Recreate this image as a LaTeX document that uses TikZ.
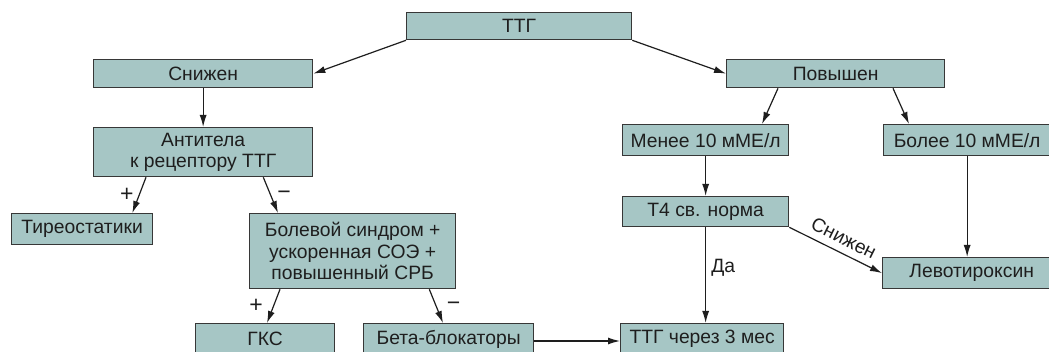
\documentclass[tikz,border=0pt]{standalone}
\usepackage{fontspec}
\setmainfont{Liberation Sans}
\usetikzlibrary{arrows.meta,calc}
\definecolor{boxfill}{RGB}{166,198,197}
\definecolor{boxline}{RGB}{55,55,55}
\definecolor{ink}{RGB}{30,30,30}

\begin{document}
\begin{tikzpicture}[x=1pt,y=-1pt,
  box/.style={draw=boxline, line width=1.3pt, fill=boxfill, anchor=north west,
    inner sep=0pt, text=ink, align=center, font=\fontsize{19.3}{21.5}\selectfont},
  link/.style={draw=ink, line width=1.2pt, -{Latex[length=12pt,width=7pt]}},
  sign/.style={font=\fontsize{19.3}{21}\selectfont, text=ink, inner sep=1pt},
  pm/.style={font=\fontsize{23}{24}\selectfont, text=ink, inner sep=1pt}]

\useasboundingbox (0,0) rectangle (1049,352);
\fill[white] (0,0) rectangle (1049,352);
\clip (0,0) rectangle (1049,352);

% boxes
\node[box, minimum width=225pt, minimum height=27pt] (ttg)  at (406,12)  {ТТГ};
\node[box, minimum width=219pt, minimum height=28pt] (low)  at (93,59)   {Снижен};
\node[box, minimum width=218pt, minimum height=28pt] (high) at (726,59)  {Повышен};
\node[box, minimum width=219pt, minimum height=49pt] (ab)   at (93,127)  {Антитела\\к рецептору ТТГ};
\node[box, minimum width=166pt, minimum height=31pt] (lt10) at (622,124) {Менее 10 мМЕ/л};
\node[box, minimum width=167pt, minimum height=31pt] (gt10) at (883,124) {Более 10 мМЕ/л};
\node[box, minimum width=166pt, minimum height=30pt] (t4)   at (622,196) {Т4 св. норма};
\node[box, minimum width=178pt, minimum height=31pt] (levo) at (882,257) {Левотироксин};
\node[box, minimum width=141pt, minimum height=31pt] (tyr)  at (11,213)  {Тиреостатики};
\node[box, minimum width=206pt, minimum height=75pt] (pain) at (249,213) {Болевой синдром +\\ускоренная СОЭ +\\повышенный СРБ};
\node[box, minimum width=139pt, minimum height=31pt] (gks)  at (195,323) {ГКС};
\node[box, minimum width=170pt, minimum height=31pt] (beta) at (363,323) {Бета-блокаторы};
\node[box, minimum width=163pt, minimum height=31pt] (ttg3) at (620,323) {ТТГ через 3 мес};

% connectors
\draw[link] (ttg.south west) -- (low.east);
\draw[link] (ttg.south east) -- (high.west);
\draw[link] (low.south) -- (ab.north);
\draw[link] ([xshift=52pt]high.south west) -- ([xshift=140pt]lt10.north west);
\draw[link] ([xshift=167pt]high.south west) -- ([xshift=26pt]gt10.north west);
\draw[link] (lt10.south) -- (lt10.south |- t4.north);
\draw[link] (gt10.south) -- (gt10.south |- levo.north);
\draw[link] (t4.south) -- node[pos=0.42, right=4pt, sign] {Да} (t4.south |- ttg3.north);
\draw[link] (t4.south east) -- node[pos=0.52, above=6pt, sloped, sign] {Снижен} (levo.west);
\draw[link] ([xshift=53pt]ab.south west) -- node[left=4pt, pm] {+} ([xshift=-21pt]tyr.north east);
\draw[link] ([xshift=-50pt]ab.south east) -- node[right=5pt, pm] {−} ([xshift=29pt]pain.north west);
\draw[link] ([xshift=31pt]pain.south west) -- node[left=9pt, pm] {+} ([xshift=72pt]gks.north west);
\draw[link] ([xshift=-27pt]pain.south east) -- node[right=9pt, pm] {−} ([xshift=80pt]beta.north west);
\draw[link] ([yshift=-18pt]beta.north east) -- ([yshift=-18pt]ttg3.north west);
\end{tikzpicture}
\end{document}
